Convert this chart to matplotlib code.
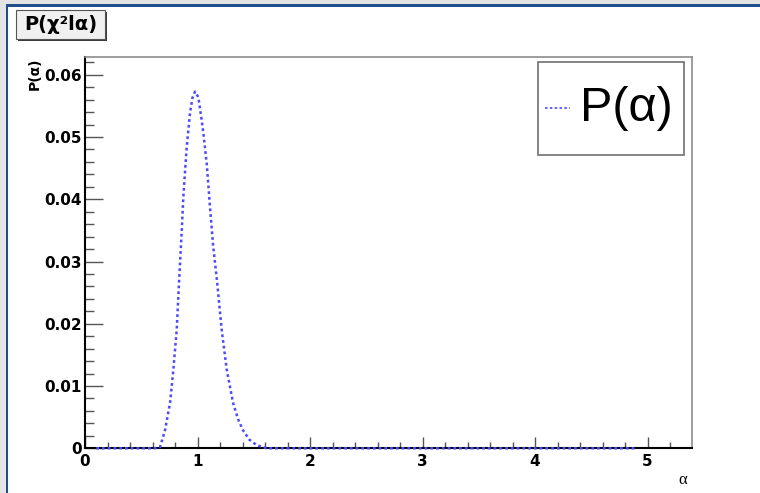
import matplotlib
matplotlib.use("Agg")
import matplotlib.pyplot as plt
from matplotlib.patches import Rectangle
from matplotlib.lines import Line2D
from matplotlib.ticker import MultipleLocator, FuncFormatter

# ---- data ----
alpha = [0.10, 0.30, 0.50, 0.62, 0.667, 0.711, 0.756, 0.785, 0.815, 0.838, 0.860,
         0.874, 0.904, 0.933, 0.955, 0.978, 1.007, 1.037, 1.052, 1.082, 1.111, 1.140,
         1.171, 1.215, 1.260, 1.316, 1.360, 1.404, 1.460, 1.526, 1.615, 2.0, 3.0, 4.0, 4.9]
prob = [0.0, 0.0, 0.0, 0.0, 0.0002, 0.0029, 0.0073, 0.0126, 0.0190, 0.0275, 0.0350,
        0.0404, 0.0484, 0.0538, 0.0563, 0.0573, 0.0564, 0.0527, 0.0506, 0.0457, 0.0387,
        0.0323, 0.0273, 0.0190, 0.0126, 0.0073, 0.0047, 0.0029, 0.0014, 0.0005, 0.0,
        0.0, 0.0, 0.0, 0.0]
x_ticks = [0, 1, 2, 3, 4, 5]
y_ticks = [0, 0.01, 0.02, 0.03, 0.04, 0.05, 0.06]
title_text = "P(χ²lα)"
legend_text = "P(α)"
y_title = "P(α)"
x_title = "α"

W, H = 760, 493
def fx(px):
    return px / W
def fy(py):
    return 1 - py / H

fig = plt.figure(figsize=(W / 100, H / 100), dpi=100)
fig.patch.set_facecolor("white")

# window background / border
fig.add_artist(Rectangle((0, 0), fx(6), 1, transform=fig.transFigure,
                         facecolor="#e4e4e4", edgecolor="none", zorder=0))
fig.add_artist(Rectangle((0, fy(4)), 1, 4 / H, transform=fig.transFigure,
                         facecolor="#e4e4e4", edgecolor="none", zorder=0))
fig.add_artist(Rectangle((fx(6), 0), 2.2 / W, fy(4), transform=fig.transFigure,
                         facecolor="#1d4f8c", edgecolor="none", zorder=1))
fig.add_artist(Rectangle((fx(6), fy(6.5)), 1, 2.5 / H, transform=fig.transFigure,
                         facecolor="#1d4f8c", edgecolor="none", zorder=1))

ax = fig.add_axes([fx(85), fy(448.3), (691.7 - 85) / W, (448.3 - 56.7) / H])
ax.set_xlim(0, 5.392)
ax.set_ylim(0, 0.0629)

ax.plot(alpha, prob, color="#4a4aff", lw=1.8, linestyle=(0, (1.1, 1.2)),
        clip_on=False, zorder=3)

for s in ("left", "bottom"):
    ax.spines[s].set_color("black")
    ax.spines[s].set_linewidth(1.5)
for s in ("top", "right"):
    ax.spines[s].set_color("#8c8c8c")
    ax.spines[s].set_linewidth(1.2)

ax.xaxis.set_major_locator(MultipleLocator(1))
ax.xaxis.set_minor_locator(MultipleLocator(0.2))
ax.yaxis.set_major_locator(MultipleLocator(0.01))
ax.yaxis.set_minor_locator(MultipleLocator(0.002))
ax.set_xticks(x_ticks)
ax.set_yticks(y_ticks)
ax.xaxis.set_major_formatter(FuncFormatter(lambda v, p: "%d" % round(v)))
ax.yaxis.set_major_formatter(FuncFormatter(lambda v, p: "0" if abs(v) < 1e-12 else "%.2f" % v))

ax.tick_params(axis="y", which="major", direction="in", length=13, width=1,
               color="#555555", pad=2.5, labelsize=11)
ax.tick_params(axis="y", which="minor", direction="in", length=6.5, width=1,
               color="#555555")
ax.tick_params(axis="x", which="major", direction="in", length=8, width=1,
               color="#555555", pad=4, labelsize=11)
ax.tick_params(axis="x", which="minor", direction="in", length=4.3, width=1,
               color="#555555")
for lab in ax.get_xticklabels() + ax.get_yticklabels():
    lab.set_fontweight("bold")

# axis titles
fig.text(fx(34.5), fy(58), y_title, rotation=90, ha="center", va="top",
         fontsize=10, fontweight="bold")
fig.text(fx(683), fy(480), x_title, ha="center", va="center",
         fontsize=12, family="Liberation Serif")

# title box with shadow
fig.add_artist(Rectangle((fx(18), fy(41)), 89 / W, 29 / H, transform=fig.transFigure,
                         facecolor="#3a3a3a", edgecolor="none", zorder=4))
fig.add_artist(Rectangle((fx(16), fy(39)), 89 / W, 29 / H, transform=fig.transFigure,
                         facecolor="#f0f0f0", edgecolor="#555555", lw=0.8, zorder=5))
fig.text(fx(61), fy(25), title_text, ha="center", va="center", fontsize=14,
         fontweight="bold", zorder=6)

# legend box
fig.add_artist(Rectangle((fx(538), fy(155)), (684 - 538) / W, (155 - 62) / H,
                         transform=fig.transFigure, facecolor="white",
                         edgecolor="#707070", lw=1.2, zorder=4))
fig.add_artist(Line2D([fx(545), fx(570)], [fy(108), fy(108)], transform=fig.transFigure,
                      color="#4a4aff", lw=1.2, linestyle=(0, (1.5, 1.4)), zorder=5))
fig.text(fx(626), fy(121), legend_text, ha="center", va="baseline", fontsize=35,
         family="Liberation Sans", zorder=6)

fig.savefig("out.png", dpi=100)
